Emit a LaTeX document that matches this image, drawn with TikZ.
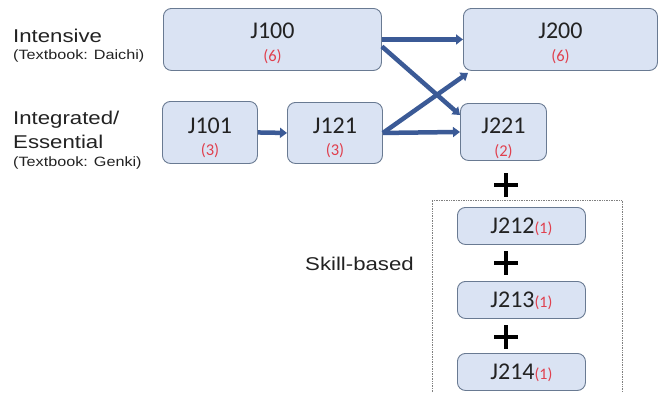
\documentclass[tikz,border=0pt]{standalone}
\usepackage{fontspec}
\setmainfont{Carlito}
\newfontfamily\lab[FakeStretch=1.2]{Liberation Sans}
\usetikzlibrary{arrows.meta}
\definecolor{boxfill}{HTML}{DAE3F3}
\definecolor{boxline}{HTML}{697A92}
\definecolor{arr}{HTML}{3B5A96}
\definecolor{jred}{HTML}{E0404E}
\definecolor{txt}{HTML}{222222}
\tikzset{
  jbox/.style={draw=boxline, line width=0.9pt, fill=boxfill, rounded corners=8pt, anchor=north west, inner sep=0pt},
  jname/.style={text=txt, font=\fontsize{24}{24}\selectfont, inner sep=0pt},
  jcred/.style={text=jred, font=\fontsize{16.5}{16.5}\selectfont, inner sep=0pt},
  biglab/.style={text=txt, font=\lab\fontsize{18.5}{18.5}\selectfont, anchor=base west, inner sep=0pt},
  smlab/.style={text=txt, font=\lab\fontsize{13.5}{13.5}\selectfont, anchor=base west, inner sep=0pt},
  conn/.style={draw=arr, line width=4.5pt, -{Triangle[length=7pt,width=10pt]}},
  plusmark/.style={line width=4.5pt, draw=black}
}
\newcommand{\sm}[1]{{\fontsize{16}{16}\selectfont\color{jred}#1}}
\begin{document}
\begin{tikzpicture}[x=1pt,y=-1pt]
\useasboundingbox (0,0) rectangle (659,392);
% boxes
\node[jbox, minimum width=218pt, minimum height=62pt] (J100) at (163,8) {};
\node[jbox, minimum width=194pt, minimum height=62pt] (J200) at (463,8) {};
\node[jbox, minimum width=95pt, minimum height=62pt] (J101) at (162,101) {};
\node[jbox, minimum width=95pt, minimum height=61pt] (J121) at (287,102) {};
\node[jbox, minimum width=86pt, minimum height=57pt] (J221) at (460,103) {};
% box texts
\node[jname] (t100) at ([yshift=9pt]J100.center) {J100};
\node[jcred] (c100) at ([yshift=-17pt]J100.center) {(6)};
\node[jname] (t200) at ([yshift=9pt]J200.center) {J200};
\node[jcred] (c200) at ([yshift=-17pt]J200.center) {(6)};
\node[jname] (t101) at ([yshift=7pt]J101.center) {J101};
\node[jcred] (c101) at ([yshift=-18pt]J101.center) {(3)};
\node[jname] (t121) at ([yshift=7pt]J121.center) {J121};
\node[jcred] (c121) at ([yshift=-18pt]J121.center) {(3)};
\node[jname] (t221) at ([yshift=6pt]J221.center) {J221};
\node[jcred] (c221) at ([yshift=-20pt]J221.center) {(2)};
% skill-based frame
\coordinate (fbl) at (432,392);
\coordinate (ftl) at (432,200);
\coordinate (ftr) at (622,200);
\coordinate (fbr) at (622,392);
\draw[gray, densely dotted, line width=0.7pt] (fbl) -- (ftl) -- (ftr) -- (fbr);
% skill boxes
\node[jbox, minimum width=128pt, minimum height=37pt] (J212) at (457,207) {};
\node[jbox, minimum width=128pt, minimum height=37pt] (J213) at (457,281) {};
\node[jbox, minimum width=128pt, minimum height=37pt] (J214) at (457,353) {};
\node[jname] (t212) at ([yshift=-1pt]J212.center) {J212\sm{(1)}};
\node[jname] (t213) at ([yshift=-1pt]J213.center) {J213\sm{(1)}};
\node[jname] (t214) at ([yshift=-1pt]J214.center) {J214\sm{(1)}};
% plus marks
\coordinate (p1) at (506,185);
\coordinate (p2) at (506,263);
\coordinate (p3) at (506,337);
\foreach \p in {p1,p2,p3}{
  \draw[plusmark] ([yshift=12pt]\p) -- ([yshift=-12pt]\p);
  \draw[plusmark] ([xshift=-12pt]\p) -- ([xshift=12pt]\p);
}
% connectors
\draw[conn] (J101.east) -- (J121.west);
\draw[conn] (J100.east) -- (J200.west);
\draw[conn] ([yshift=-7pt]J100.east) -- ([yshift=-12pt]J221.north west);
\draw[conn] (J121.east) -- ([xshift=5pt,yshift=-2pt]J200.south west);
\draw[conn] (J121.east) -- (J221.west);
% left labels
\node[biglab] (lint) at (13,42) {Intensive};
\node[smlab] (ldai) at (13,59) {(Textbook: Daichi)};
\node[biglab] (lintg) at (13,124) {Integrated/};
\node[biglab] (less) at (13,148) {Essential};
\node[smlab] (lgen) at (13,166) {(Textbook: Genki)};
\node[biglab] (lskill) at (305,270) {Skill-based};
\end{tikzpicture}
\end{document}
